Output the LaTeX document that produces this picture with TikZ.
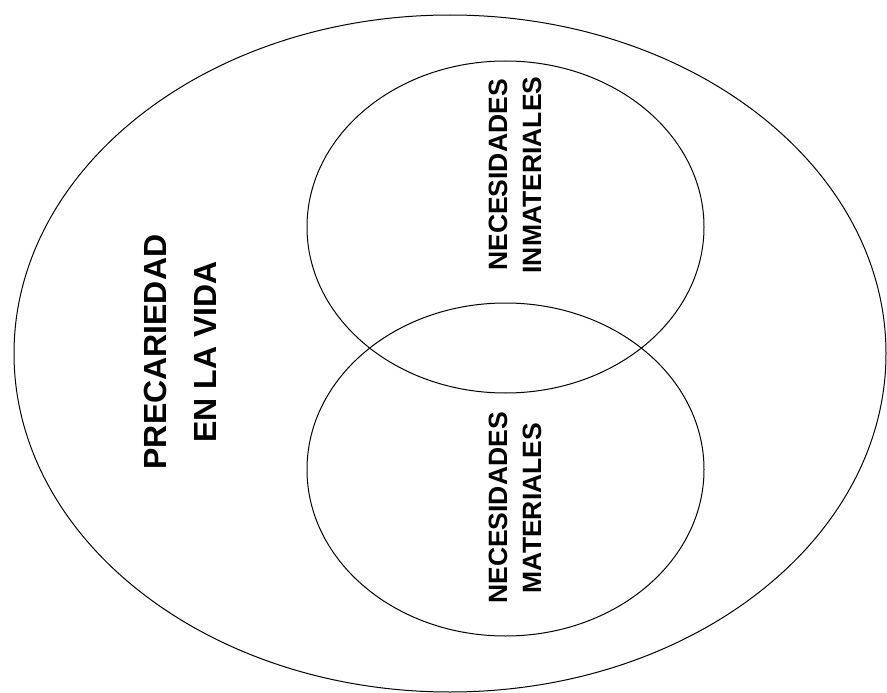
\documentclass[tikz,border=0pt]{standalone}
\usepackage{fontspec}
\setmainfont{Liberation Sans}
\usetikzlibrary{shapes.geometric}
\begin{document}
\begin{tikzpicture}[x=1pt,y=-1pt,
  ring/.style={draw=black, line width=1pt, ellipse, inner sep=0pt},
  bigtext/.style={rotate=90, align=center, font=\bfseries\fontsize{32}{50}\selectfont, inner sep=0pt},
  smalltext/.style={rotate=90, align=center, font=\bfseries\fontsize{26.5}{34}\selectfont, inner sep=0pt}]
\useasboundingbox[fill=white] (0,0) rectangle (887,693);
\node[ring, minimum width=872pt, minimum height=677pt] (outer) at (450,353.5) {};
\node[ring, minimum width=397pt, minimum height=332pt] (upper) at (505.5,227) {};
\node[ring, minimum width=397pt, minimum height=333pt] (lower) at (505.5,469.5) {};
\node[bigtext] (prec) at (180,352) {PRECARIEDAD\\EN LA VIDA};
\node[smalltext] (inm) at (515,175) {NECESIDADES\\INMATERIALES};
\node[smalltext] (mat) at (515,508) {NECESIDADES\\MATERIALES};
\end{tikzpicture}
\end{document}
